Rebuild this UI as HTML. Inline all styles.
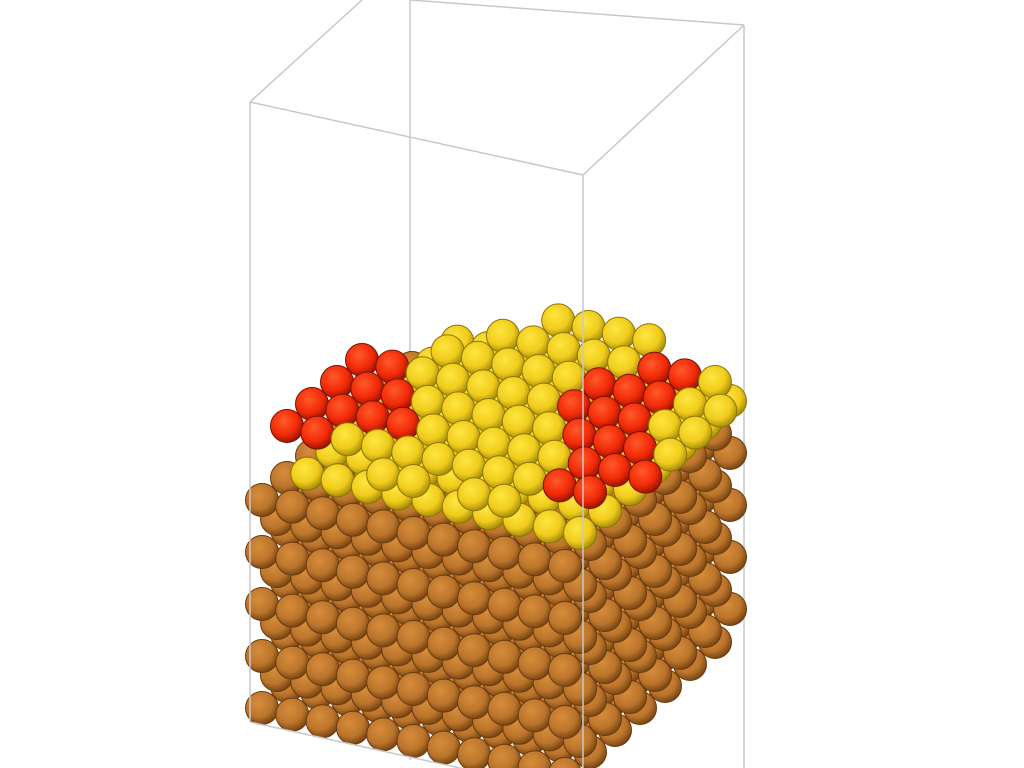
<!DOCTYPE html>
<html><head><meta charset="utf-8"><style>html,body{margin:0;background:#fff;width:1024px;height:768px;overflow:hidden}</style></head>
<body>
<svg id="scene" width="1024" height="768" viewBox="0 0 1024 768" xmlns="http://www.w3.org/2000/svg">
<defs>
<radialGradient id="gBrown" cx="0.4" cy="0.35" r="0.7"><stop offset="0" stop-color="#d68c3a"/><stop offset="0.6" stop-color="#bb752c"/><stop offset="1" stop-color="#6e3d0e"/></radialGradient>
<radialGradient id="gYellow" cx="0.4" cy="0.35" r="0.7"><stop offset="0" stop-color="#ffe640"/><stop offset="0.6" stop-color="#f0cc1c"/><stop offset="1" stop-color="#9a8208"/></radialGradient>
<radialGradient id="gRed" cx="0.4" cy="0.35" r="0.7"><stop offset="0" stop-color="#ff5a2a"/><stop offset="0.6" stop-color="#f22a08"/><stop offset="1" stop-color="#8a1200"/></radialGradient>
</defs>
<g id="back-edges" stroke="#c8c8c8" stroke-width="1.5" fill="none">
<line x1="410" y1="0" x2="410" y2="760"/><line x1="744" y1="25" x2="744" y2="768"/>
<line x1="250" y1="102" x2="362" y2="0"/><line x1="583" y1="175" x2="744" y2="25"/>
<line x1="410" y1="0" x2="744" y2="25"/><line x1="250" y1="722" x2="410" y2="600"/>
</g>
<g id="atoms"></g>
<g id="front-edges" stroke="#c8c8c8" stroke-width="1.5" fill="none">
<line x1="250" y1="102" x2="250" y2="722"/><line x1="583" y1="175" x2="583" y2="768"/>
<line x1="250" y1="102" x2="583" y2="175"/><line x1="250" y1="722" x2="583" y2="795"/>
</g>
</svg>
<script>
const bulkLayers = [0,1,2,3,4,5,6,7,8];
const nWidth = 11, nDepth = 7;
const yellowTop = 9;
const redSites = [[0,1],[1,1],[0,2],[1,2],[2,2],[0,3],[1,3],[2,3],[3,2],[1,4],[0,4],[9,1],[10,1],[9,2],[10,2],[11,2],[8,3],[9,3],[10,3],[7,4],[8,4],[9,4],[7,5],[8,5],[9,5],[8,6],[9,6]];
const extraYellow = [[2,1],[3,1],[4,1],[5,1],[6,1],[7,1],[8,1],[3,3],[4,2],[5,2],[6,2],[7,2],[8,2],[4,3],[5,3],[6,3],[7,3],[2,4],[3,4],[4,4],[5,4],[6,4],[2,5],[3,5],[4,5],[5,5],[6,5],[10,5],[3,6],[4,6],[5,6],[6,6],[7,6],[10,6],[4,7],[5,7],[6,7],[7,7],[11,4],[11,5],[10,4],[11,3],[8,0],[7,0],[4,0],[5,0]];
const g = document.getElementById('atoms');
const W=[30.3,6.6], D=[25,-22], H=26, O=[262,708], R=16.5;
function pos(i,j,k){const s=k%2?1:0;return [O[0]+i*W[0]+j*D[0]+s*15,O[1]+i*W[1]+j*D[1]-k*H-s*7];}
const groups=[[],[],[]];
for(const k of bulkLayers)for(let j=0;j<nDepth;j++)for(let i=0;i<nWidth;i++)groups[0].push({i,j,k,c:'gBrown'});
for(let j=0;j<nDepth;j++)for(let i=1;i<nWidth;i++)groups[1].push({i,j,k:yellowTop,c:'gYellow'});
for(const [i,j] of extraYellow)groups[2].push({i,j,k:10,c:'gYellow'});
for(const [i,j] of redSites)groups[2].push({i,j,k:10,c:'gRed'});
groups[0].sort((a,b)=>(b.j-a.j)||(a.k-b.k)||(a.i-b.i));
groups[1].sort((a,b)=>(b.j-a.j)||(a.i-b.i));
groups[2].sort((a,b)=>(b.j-a.j)||(a.i-b.i));
for(const grp of groups)for(const a of grp){
  const [x,y]=pos(a.i,a.j,a.k);
  const c=document.createElementNS('http://www.w3.org/2000/svg','circle');
  c.setAttribute('cx',x.toFixed(1));c.setAttribute('cy',y.toFixed(1));c.setAttribute('r',R);
  c.setAttribute('fill','url(#'+a.c+')');
  c.setAttribute('stroke',a.c==='gBrown'?'#6a3a0e':a.c==='gRed'?'#7a1000':'#8a7406');c.setAttribute('stroke-width','1');
  
  
  g.appendChild(c);
}
</script>
</body></html>
